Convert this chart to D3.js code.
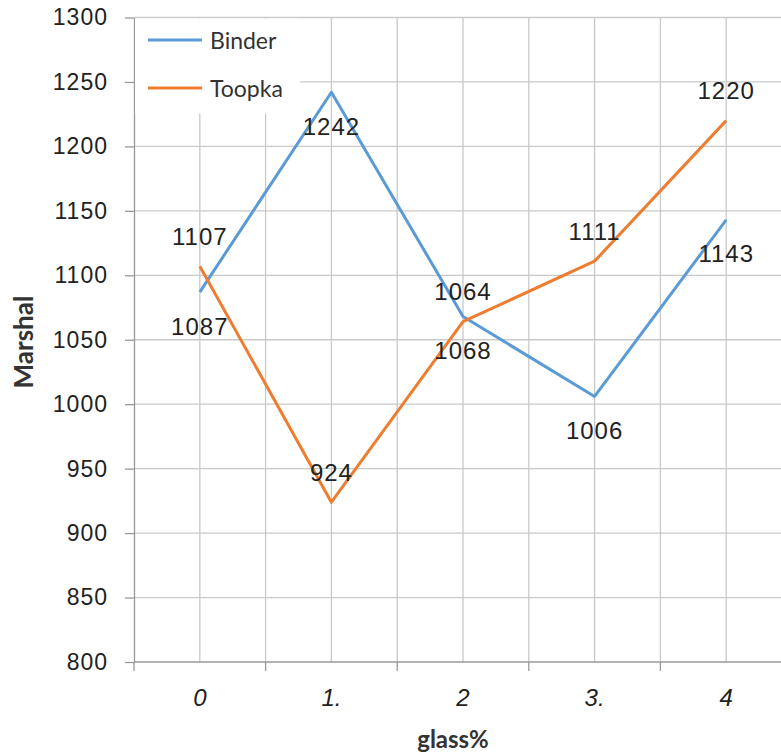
<!DOCTYPE html>
<html>
<head>
<meta charset="utf-8">
<script src="https://cdn.jsdelivr.net/npm/d3@7"></script>
<style>
  body { margin: 0; background: #fff; }
  svg { display: block; }
</style>
</head>
<body>
<div id="chart"></div>
<script>
// categories along the x axis (glass %)
const categories = ["0", "1.", "2", "3.", "4"];
// series values
const binder = [1087, 1242, 1068, 1006, 1143];
const toopka = [1107, 924, 1064, 1111, 1220];
// y axis ticks
const yTicks = [800, 850, 900, 950, 1000, 1050, 1100, 1150, 1200, 1250, 1300];

const series = [
    { name: "Binder", values: binder, color: "#5b9bd5", labelDy: 34 },
    { name: "Toopka", values: toopka, color: "#ed7d31", labelDy: -30 }
];

const width = 781, height = 753;
const plotLeft = 134, plotTop = 17.5, plotBottom = 662;
const bandW = 131.6;

const svg = d3.select("#chart").append("svg")
    .attr("width", width)
    .attr("height", height);

const x = d3.scaleBand()
    .domain(categories)
    .range([plotLeft, plotLeft + bandW * categories.length])
    .paddingInner(0).paddingOuter(0);

const y = d3.scaleLinear()
    .domain([800, 1300])
    .range([plotBottom, plotTop]);

const cx = (d) => x(d) + x.bandwidth() / 2;

// grid lines: horizontal at every tick
svg.append("g")
    .selectAll("line")
    .data(yTicks.slice(1))
    .enter().append("line")
    .attr("x1", plotLeft).attr("x2", width)
    .attr("y1", (d) => y(d)).attr("y2", (d) => y(d))
    .attr("stroke", "#c9c9c9").attr("stroke-width", 1.3);

// vertical grid lines at band edges and band centres
let vlines = [];
categories.forEach((c) => { vlines.push(x(c) + x.bandwidth()); vlines.push(cx(c)); });
svg.append("g")
    .selectAll("line")
    .data(vlines)
    .enter().append("line")
    .attr("x1", (d) => d).attr("x2", (d) => d)
    .attr("y1", plotTop).attr("y2", plotBottom)
    .attr("stroke", "#c9c9c9").attr("stroke-width", 1.3);

// y axis
const yAxis = svg.append("g")
    .attr("transform", `translate(${plotLeft},0)`)
    .call(d3.axisLeft(y).tickValues(yTicks).tickFormat(d3.format("d"))
        .tickSize(9).tickPadding(17).tickSizeOuter(0));
yAxis.select(".domain").attr("stroke", "#999").attr("stroke-width", 1.3);
yAxis.selectAll(".tick line").attr("stroke", "#999").attr("stroke-width", 1.3);
yAxis.selectAll(".tick text")
    .attr("font-family", "Liberation Sans, Arial, sans-serif")
    .attr("font-size", 23)
    .attr("letter-spacing", 1)
    .attr("fill", "#222");

// x axis: ticks sit on band edges
const xAxis = svg.append("g")
    .attr("transform", `translate(0,${plotBottom})`)
    .call(d3.axisBottom(x).tickSize(0).tickPadding(27).tickSizeOuter(0));
xAxis.select(".domain").attr("stroke", "#999").attr("stroke-width", 1.3)
    .attr("d", `M${plotLeft},0H${width}`);
xAxis.selectAll(".tick text")
    .attr("font-family", "Liberation Sans, Arial, sans-serif")
    .attr("font-style", "italic")
    .attr("font-size", 24)
    .attr("fill", "#222");
svg.append("g")
    .selectAll("line")
    .data([plotLeft].concat(categories.map((c) => x(c) + x.bandwidth())))
    .enter().append("line")
    .attr("x1", (d) => d).attr("x2", (d) => d)
    .attr("y1", plotBottom).attr("y2", plotBottom + 9)
    .attr("stroke", "#999").attr("stroke-width", 1.3);

// legend box covers the grid in the top left corner
svg.append("rect")
    .attr("x", plotLeft + 1).attr("y", plotTop + 1)
    .attr("width", 165).attr("height", 95)
    .attr("fill", "#fff");

// the lines
const line = d3.line()
    .x((d, i) => cx(categories[i]))
    .y((d) => y(d));

series.forEach((s) => {
    svg.append("path")
        .datum(s.values)
        .attr("d", line)
        .attr("fill", "none")
        .attr("stroke", s.color)
        .attr("stroke-width", 3)
        .attr("stroke-linejoin", "round");
});

// data labels
series.forEach((s) => {
    svg.append("g")
        .selectAll("text")
        .data(s.values)
        .enter().append("text")
        .attr("x", (d, i) => cx(categories[i]))
        .attr("y", (d) => y(d) + s.labelDy)
        .attr("text-anchor", "middle")
        .attr("dominant-baseline", "central")
        .attr("font-family", "Liberation Sans, Arial, sans-serif")
        .attr("font-size", 24)
        .attr("letter-spacing", 1)
        .attr("fill", "#222")
        .text((d) => d);
});

// legend entries
const legend = svg.append("g");
series.forEach((s, i) => {
    const ly = 40 + i * 48;
    legend.append("line")
        .attr("x1", 148).attr("x2", 202)
        .attr("y1", ly).attr("y2", ly)
        .attr("stroke", s.color).attr("stroke-width", 3);
    legend.append("text")
        .attr("x", 210).attr("y", ly)
        .attr("dominant-baseline", "central")
        .attr("font-family", "Lato, Open Sans, sans-serif")
        .attr("font-size", 23)
        .attr("fill", "#333")
        .text(s.name);
});

// axis titles
svg.append("text")
    .attr("transform", "translate(33,342) rotate(-90)")
    .attr("text-anchor", "middle")
    .attr("font-family", "Lato, Open Sans, sans-serif")
    .attr("font-weight", "bold")
    .attr("font-size", 26)
    .attr("fill", "#333")
    .text("Marshal");

svg.append("text")
    .attr("x", 453).attr("y", 748)
    .attr("text-anchor", "middle")
    .attr("font-family", "Lato, Open Sans, sans-serif")
    .attr("font-weight", "bold")
    .attr("font-size", 24)
    .attr("fill", "#333")
    .text("glass%");
</script>
</body>
</html>
